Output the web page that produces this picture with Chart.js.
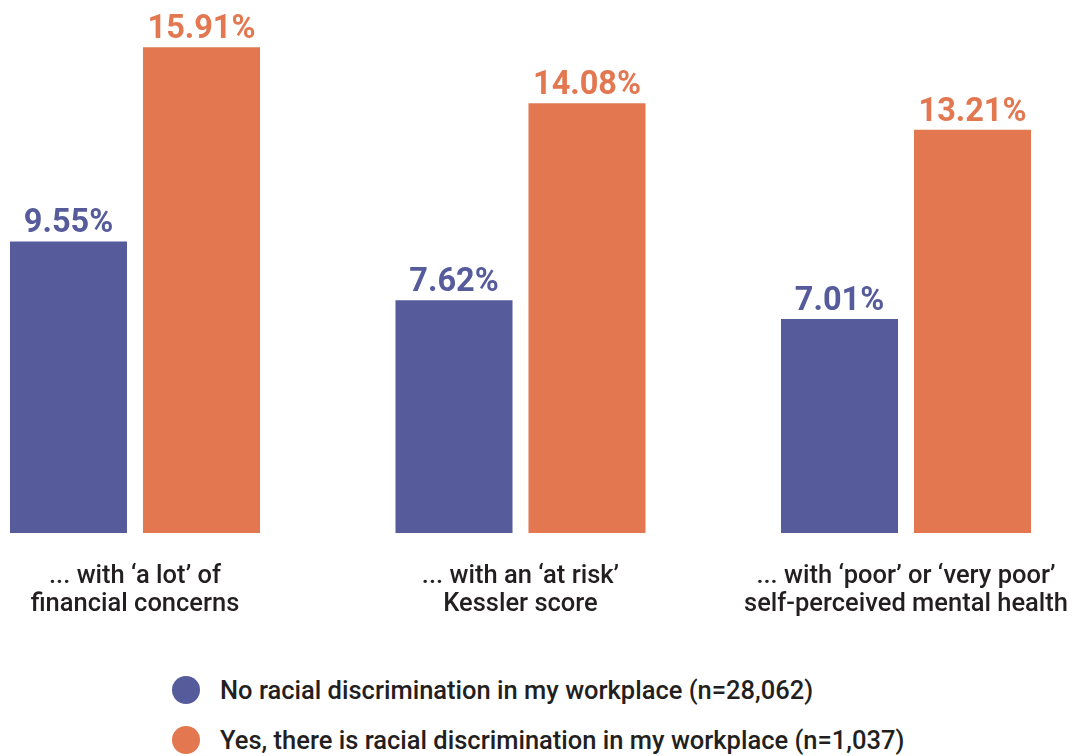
<!DOCTYPE html>
<html>
<head>
<meta charset="utf-8">
<script src="https://cdn.jsdelivr.net/npm/chart.js@4"></script>
<style>
  html, body { margin: 0; padding: 0; background: #fff; }
  #wrap { position: relative; width: 1075px; height: 756px; overflow: hidden; }
  #chart { position: absolute; left: 0; top: 0; }
  .legend { position: absolute; left: 172px; font-family: Roboto, sans-serif; font-weight: 500;
            font-size: 25.5px; color: #231f20; display: flex; align-items: center; white-space: nowrap; }
  .dot { width: 28px; height: 28px; border-radius: 50%; margin-right: 20px; }
</style>
</head>
<body>
<div id="wrap">
  <canvas id="chart" width="1075" height="652"></canvas>
  <div class="legend" style="top: 675px;"><span class="dot" style="background:#565b9b"></span>No racial discrimination in my workplace (n=28,062)</div>
  <div class="legend" style="top: 725px;"><span class="dot" style="background:#e27750"></span>Yes, there is racial discrimination in my workplace (n=1,037)</div>
</div>
<script>
// categories (multi-line tick labels)
const categories = [
  ['... with \u2018a lot\u2019 of', 'financial concerns'],
  ['... with an \u2018at risk\u2019', 'Kessler score'],
  ['... with \u2018poor\u2019 or \u2018very poor\u2019', 'self-perceived mental health']
];
const seriesNames = [
  'No racial discrimination in my workplace (n=28,062)',
  'Yes, there is racial discrimination in my workplace (n=1,037)'
];
const noDiscrimination = [9.55, 7.62, 7.01];
const yesDiscrimination = [15.91, 14.08, 13.21];

const blue = '#565b9b';
const orange = '#e27750';

// draws the % value above each bar
const valueLabels = {
  id: 'valueLabels',
  afterDatasetsDraw(chart) {
    const ctx = chart.ctx;
    ctx.save();
    ctx.font = 'bold 32.5px Roboto, sans-serif';
    ctx.textAlign = 'center';
    ctx.textBaseline = 'alphabetic';
    chart.data.datasets.forEach((ds, i) => {
      chart.getDatasetMeta(i).data.forEach((bar, j) => {
        ctx.fillStyle = ds.backgroundColor;
        ctx.fillText(ds.data[j].toFixed(2) + '%', bar.x, bar.y - 9);
      });
    });
    ctx.restore();
  }
};

new Chart(document.getElementById('chart'), {
  type: 'bar',
  data: {
    labels: categories,
    datasets: [
      { label: seriesNames[0], data: noDiscrimination, backgroundColor: blue, clip: false },
      { label: seriesNames[1], data: yesDiscrimination, backgroundColor: orange, clip: false }
    ]
  },
  options: {
    responsive: false,
    animation: false,
    categoryPercentage: 0.69,
    barPercentage: 0.88,
    layout: { autoPadding: false, padding: { left: 135, right: 169, top: 14, bottom: 4 } },
    plugins: {
      legend: { display: false },
      tooltip: { enabled: false }
    },
    scales: {
      x: {
        offset: false,
        grid: { display: false, drawTicks: false },
        border: { display: false },
        // the layout padding already leaves room for the edge labels
        afterFit(scale) {
          scale.paddingLeft = 0;
          scale.paddingRight = 0;
        },
        ticks: {
          color: '#231f20',
          padding: 29,
          maxRotation: 0,
          autoSkip: false,
          font: { family: 'Roboto, sans-serif', size: 25.5, weight: 500, lineHeight: 1.12 }
        }
      },
      y: {
        display: false,
        min: 0,
        max: 17
      }
    }
  },
  plugins: [valueLabels]
});
</script>
</body>
</html>
